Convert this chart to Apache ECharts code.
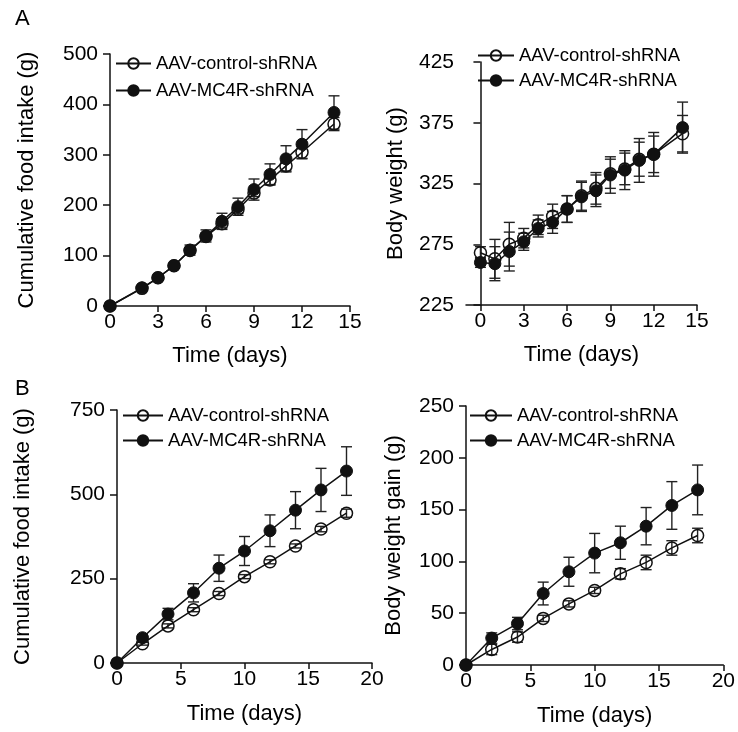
<!DOCTYPE html>
<html>
<head>
<meta charset="utf-8">
<script src="https://cdn.jsdelivr.net/npm/echarts@6/dist/echarts.min.js"></script>
<style>
  html, body { margin: 0; padding: 0; background: #fff; }
  #chart { width: 738px; height: 732px; }
</style>
</head>
<body>
<div id="chart"></div>
<script>
// panel A: days 0-14
const daysFoodA = [0, 2, 3, 4, 5, 6, 7, 8, 9, 10, 11, 12, 14]
const foodCtrlA = [0, 35, 56, 80, 110, 138, 163, 192, 224, 250, 278, 305, 361]
const foodCtrlErrA = [0, 3, 3, 4, 5, 7, 8, 8, 7, 9, 10, 12, 13]
const foodMc4rA = [0, 36, 56, 80, 111, 139, 168, 197, 231, 261, 292, 321, 384]
const foodMc4rErrA = [0, 3, 3, 4, 10, 12, 16, 17, 21, 21, 26, 29, 33]

const daysWeightA = [0, 1, 2, 3, 4, 5, 6, 7, 8, 9, 10, 11, 12, 14]
const weightCtrlA = [268, 263, 275, 280, 291, 298, 304, 315, 321, 333, 337, 345, 349, 366]
const weightCtrlErrA = [5, 16, 18, 8, 8, 10, 11, 12, 13, 12, 13, 14, 15, 15]
const weightMc4rA = [260, 259, 269, 277, 288, 293, 304, 314, 319, 332, 336, 344, 349, 371]
const weightMc4rErrA = [4, 14, 16, 7, 7, 9, 11, 12, 13, 15, 16, 18, 18, 21]

// panel B: days 0-18
const daysB = [0, 2, 4, 6, 8, 10, 12, 14, 16, 18]
const foodCtrlB = [0, 57, 110, 158, 206, 256, 300, 347, 397, 444]
const foodCtrlErrB = [0, 4, 6, 6, 6, 6, 6, 6, 8, 12]
const foodMc4rB = [0, 75, 145, 208, 281, 332, 392, 453, 513, 569]
const foodMc4rErrB = [0, 8, 17, 27, 39, 43, 47, 55, 64, 72]

const gainCtrlB = [0, 15, 27, 45, 59, 72, 88, 99, 113, 125]
const gainCtrlErrB = [0, 5, 5, 3, 3, 3, 5, 7, 7, 7]
const gainMc4rB = [0, 26, 40, 69, 90, 108, 118, 134, 154, 169]
const gainMc4rErrB = [0, 5, 6, 11, 14, 19, 16, 18, 23, 24]

const ticksA = [0, 3, 6, 9, 12, 15]
const names = ['AAV-control-shRNA', 'AAV-MC4R-shRNA']

const FONT = "'Liberation Sans', Arial, Helvetica, sans-serif"
const INK = '#111'

const pairs = (xs, ys) => xs.map((x, i) => [x, ys[i]])
const bars = (xs, ys, es) => xs.map((x, i) => [x, ys[i] - es[i], ys[i] + es[i]]).filter((d, i) => es[i] > 0)

function renderErrorBar(params, api) {
  const top = api.coord([api.value(0), api.value(2)])
  const bot = api.coord([api.value(0), api.value(1)])
  const w = 5.5
  const style = { stroke: '#222', lineWidth: 1.4 }
  return {
    type: 'group',
    children: [
      { type: 'line', shape: { x1: top[0], y1: top[1], x2: bot[0], y2: bot[1] }, style },
      { type: 'line', shape: { x1: top[0] - w, y1: top[1], x2: top[0] + w, y2: top[1] }, style },
      { type: 'line', shape: { x1: bot[0] - w, y1: bot[1], x2: bot[0] + w, y2: bot[1] }, style },
    ]
  }
}

const lineSeries = (name, idx, data, filled) => ({
  name: name,
  type: 'line',
  xAxisIndex: idx,
  yAxisIndex: idx,
  data: data,
  symbol: 'circle',
  symbolSize: 12,
  clip: false,
  z: filled ? 4 : 3,
  lineStyle: { color: INK, width: 1.5 },
  itemStyle: filled
    ? { color: INK, borderColor: INK, borderWidth: 1 }
    : { color: 'rgba(255,255,255,0)', borderColor: INK, borderWidth: 1.5 },
  emphasis: { disabled: true },
})

const errSeries = (idx, data) => ({
  type: 'custom',
  xAxisIndex: idx,
  yAxisIndex: idx,
  renderItem: renderErrorBar,
  data: data,
  clip: false,
  z: 2,
  silent: true,
})

const axisCommon = {
  axisLine: { show: true, lineStyle: { color: INK, width: 1.5 } },
  axisTick: { show: true, inside: false, length: 6, lineStyle: { color: INK, width: 1.5 } },
  splitLine: { show: false },
  axisLabel: { color: '#000', fontSize: 21, fontFamily: FONT },
  nameTextStyle: { color: '#000', fontSize: 22, fontFamily: FONT },
  nameLocation: 'middle',
}

const xAxis = (idx, min, max, interval, gap, custom) => {
  const ax = Object.assign({}, axisCommon, {
    type: 'value', gridIndex: idx, min: min, max: max, interval: interval,
    name: 'Time (days)', nameGap: gap,
  })
  ax.axisLabel = Object.assign({}, axisCommon.axisLabel, { margin: 6, showMinLabel: true, showMaxLabel: true })
  if (custom) {
    ax.axisLabel.customValues = custom
    ax.axisTick = Object.assign({}, axisCommon.axisTick, { customValues: custom })
  }
  return ax
}

const yAxis = (idx, name, min, max, interval, gap) => {
  const ax = Object.assign({}, axisCommon, {
    type: 'value', gridIndex: idx, min: min, max: max, interval: interval,
    name: name, nameGap: gap,
  })
  ax.axisTick = Object.assign({}, axisCommon.axisTick, { length: 7 })
  ax.axisLabel = Object.assign({}, axisCommon.axisLabel, { margin: 12 })
  return ax
}

const legend = (left, top, itemWidth, gap) => ({
  data: names,
  orient: 'vertical',
  left: left,
  top: top,
  padding: 0,
  itemWidth: itemWidth,
  itemHeight: 13,
  itemGap: gap,
  selectedMode: false,
  textStyle: { color: '#000', fontSize: 18.5, fontFamily: FONT, padding: [0, 0, 0, 0] },
})

const options = {
  backgroundColor: '#fff',
  animation: false,
  title: [
    { text: 'A', left: 10, top: 3, textStyle: { fontSize: 22, fontWeight: 'normal', color: '#000', fontFamily: FONT } },
    { text: 'B', left: 10, top: 373, textStyle: { fontSize: 22, fontWeight: 'normal', color: '#000', fontFamily: FONT } },
  ],
  legend: [
    legend(115, 54, 35, 8),
    legend(477, 46, 36, 6),
    legend(122, 406, 40, 6),
    legend(469, 406, 42, 6),
  ],
  grid: [
    { left: 110, top: 54, width: 240, height: 252 },
    { left: 466, top: 62, width: 231, height: 243 },
    { left: 117, top: 410, width: 255, height: 253 },
    { left: 466, top: 406, width: 258, height: 259 },
  ],
  xAxis: [
    xAxis(0, 0, 15, 3, 39),
    xAxis(1, -1, 15, 1, 39, ticksA),
    xAxis(2, 0, 20, 5, 40),
    xAxis(3, 0, 20, 5, 40),
  ],
  yAxis: [
    yAxis(0, 'Cumulative food intake (g)', 0, 500, 100, 72),
    yAxis(1, 'Body weight (g)', 225, 425, 50, 59),
    yAxis(2, 'Cumulative food intake (g)', 0, 750, 250, 83),
    yAxis(3, 'Body weight gain (g)', 0, 250, 50, 61),
  ],
  series: [
    errSeries(0, bars(daysFoodA, foodCtrlA, foodCtrlErrA)),
    errSeries(0, bars(daysFoodA, foodMc4rA, foodMc4rErrA)),
    lineSeries(names[0], 0, pairs(daysFoodA, foodCtrlA), false),
    lineSeries(names[1], 0, pairs(daysFoodA, foodMc4rA), true),

    errSeries(1, bars(daysWeightA, weightCtrlA, weightCtrlErrA)),
    errSeries(1, bars(daysWeightA, weightMc4rA, weightMc4rErrA)),
    lineSeries(names[0], 1, pairs(daysWeightA, weightCtrlA), false),
    lineSeries(names[1], 1, pairs(daysWeightA, weightMc4rA), true),

    errSeries(2, bars(daysB, foodCtrlB, foodCtrlErrB)),
    errSeries(2, bars(daysB, foodMc4rB, foodMc4rErrB)),
    lineSeries(names[0], 2, pairs(daysB, foodCtrlB), false),
    lineSeries(names[1], 2, pairs(daysB, foodMc4rB), true),

    errSeries(3, bars(daysB, gainCtrlB, gainCtrlErrB)),
    errSeries(3, bars(daysB, gainMc4rB, gainMc4rErrB)),
    lineSeries(names[0], 3, pairs(daysB, gainCtrlB), false),
    lineSeries(names[1], 3, pairs(daysB, gainMc4rB), true),
  ],
}

const thisChart = echarts.init(document.getElementById('chart'), null, { renderer: 'canvas' })
thisChart.setOption(options)
</script>
</body>
</html>
